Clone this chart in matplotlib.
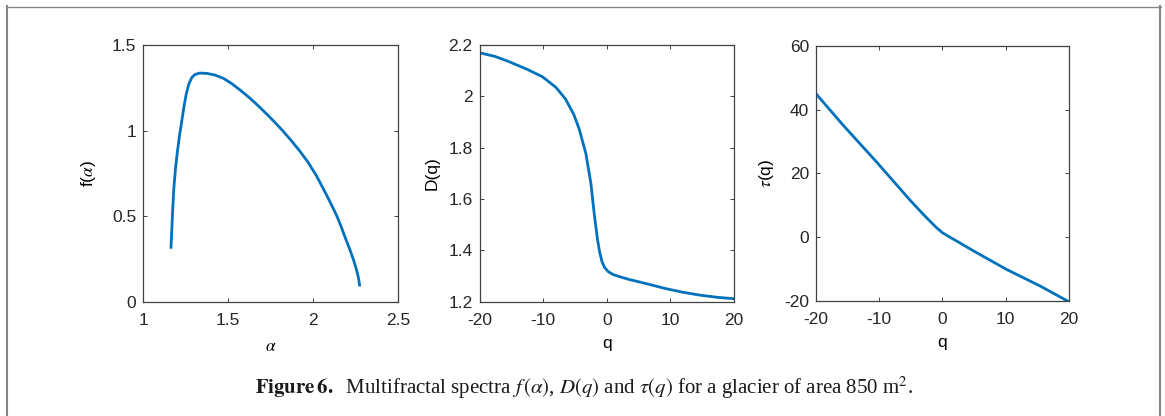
#!/usr/bin/env python3

import matplotlib
matplotlib.use('Agg')
import matplotlib.pyplot as plt
from matplotlib.lines import Line2D

# f(alpha) spectrum
alpha = [1.1633, 1.1712, 1.1791, 1.1889, 1.2007, 1.2124, 1.2262, 1.2380, 1.2518,
         1.2675, 1.2852, 1.3048, 1.3343, 1.3736, 1.420, 1.472, 1.520, 1.570,
         1.620, 1.669, 1.720, 1.770, 1.820, 1.870, 1.920, 1.970, 2.020, 2.081,
         2.110, 2.140, 2.160, 2.190, 2.219, 2.240, 2.258, 2.268, 2.274]
f_alpha = [0.317, 0.496, 0.652, 0.769, 0.876, 0.964, 1.052, 1.130, 1.208,
           1.270, 1.309, 1.328, 1.336, 1.334, 1.325, 1.305, 1.275, 1.237,
           1.196, 1.152, 1.103, 1.053, 1.000, 0.943, 0.882, 0.815, 0.735, 0.620,
           0.562, 0.500, 0.452, 0.372, 0.298, 0.238, 0.178, 0.135, 0.096]

# generalised dimensions D(q)
q_d = [-20, -17.5, -15.35, -12.5, -10.1, -8.0, -6.5, -5.2, -4.33, -3.28,
       -2.49, -1.97, -1.45, -1.1, -0.75, -0.35, 0.2, 1.0, 1.97, 3.5,
       6.0, 9.3, 12.0, 14.6, 17.5, 20]
D_q = [2.170, 2.155, 2.135, 2.105, 2.076, 2.035, 1.990, 1.930, 1.872, 1.776,
       1.659, 1.541, 1.440, 1.390, 1.355, 1.333, 1.317, 1.305, 1.297, 1.286,
       1.271, 1.250, 1.236, 1.225, 1.216, 1.211]

# mass exponents tau(q)
q_tau = [-20, -15.7, -10.4, -5.15, -3.0, -2.0, -1.0, 0.0, 1.0, 2.5, 4.85, 10.1, 15.4, 20]
tau_q = [45.0, 35.1, 23.5, 11.6, 7.0, 5.0, 3.0, 1.3, 0.1, -1.6, -4.35, -10.2, -15.4, -20.4]

plt.rcParams['font.family'] = ['Liberation Sans', 'DejaVu Sans']
plt.rcParams['mathtext.fontset'] = 'stix'

line_color = '#0072BD'
box_color = '#262626'


def style_axes(ax, xlim, ylim, xticks, yticks, xticklabels, yticklabels):
    ax.set_xlim(xlim)
    ax.set_ylim(ylim)
    ax.set_xticks(xticks)
    ax.set_yticks(yticks)
    ax.set_xticklabels(xticklabels)
    ax.set_yticklabels(yticklabels)
    ax.tick_params(direction='in', top=True, right=True, length=3, width=0.6,
                   color=box_color, labelsize=12.5, labelcolor='#262626')
    ax.tick_params(axis='x', pad=8)
    ax.tick_params(axis='y', pad=5)
    for spine in ax.spines.values():
        spine.set_color('#404040')
        spine.set_linewidth(0.9)


fig = plt.figure(figsize=(11.65, 4.16), dpi=100)

ax1 = fig.add_axes([0.1230, 0.2752, 0.2186, 0.6166])
ax1.plot(alpha, f_alpha, color=line_color, lw=2.0)
style_axes(ax1, (1, 2.5), (0, 1.5), [1, 1.5, 2, 2.5], [0, 0.5, 1, 1.5],
           ['1', '1.5', '2', '2.5'], ['0', '0.5', '1', '1.5'])
ax1.set_xlabel(r'$\alpha$', fontsize=12.5, labelpad=8)
ax1.set_ylabel(r'f($\alpha$)', fontsize=12.5, labelpad=10)

ax2 = fig.add_axes([0.4116, 0.2752, 0.2185, 0.6166])
ax2.plot(q_d, D_q, color=line_color, lw=2.0)
style_axes(ax2, (-20, 20), (1.2, 2.2), [-20, -10, 0, 10, 20],
           [1.2, 1.4, 1.6, 1.8, 2.0, 2.2],
           ['-20', '-10', '0', '10', '20'], ['1.2', '1.4', '1.6', '1.8', '2', '2.2'])
ax2.set_xlabel('q', fontsize=12.5, labelpad=6)
ax2.set_ylabel('D(q)', fontsize=12.5, labelpad=6)

ax3 = fig.add_axes([0.7004, 0.2776, 0.2172, 0.6118])
ax3.plot(q_tau, tau_q, color=line_color, lw=2.0)
style_axes(ax3, (-20, 20), (-20, 60), [-20, -10, 0, 10, 20],
           [-20, 0, 20, 40, 60],
           ['-20', '-10', '0', '10', '20'], ['-20', '0', '20', '40', '60'])
ax3.set_xlabel('q', fontsize=12.5, labelpad=6)
ax3.set_ylabel(r'$\tau$(q)', fontsize=12.5, labelpad=6)

# caption below the panels
fig.text(0.501, 0.067,
         r'$\mathbf{Figure\,6.}$  Multifractal spectra $f\,(\alpha)$, $D(q)$ and '
         r'$\tau(q)$ for a glacier of area 850 m$^2$.',
         ha='center', va='center', fontsize=15, family='Liberation Serif',
         color='#1a1a1a')

# grey frame around the figure
frame = '#858585'
fig.add_artist(Line2D([7 / 1165, 7 / 1165], [0, 1 - 6 / 416], color=frame,
                      lw=1.5, transform=fig.transFigure))
fig.add_artist(Line2D([1160 / 1165, 1160 / 1165], [0, 1 - 6 / 416], color=frame,
                      lw=1.5, transform=fig.transFigure))
fig.add_artist(Line2D([6 / 1165, 1161 / 1165], [1 - 6.5 / 416, 1 - 6.5 / 416],
                      color=frame, lw=1.0, transform=fig.transFigure))

fig.savefig('out.png', dpi=100)
